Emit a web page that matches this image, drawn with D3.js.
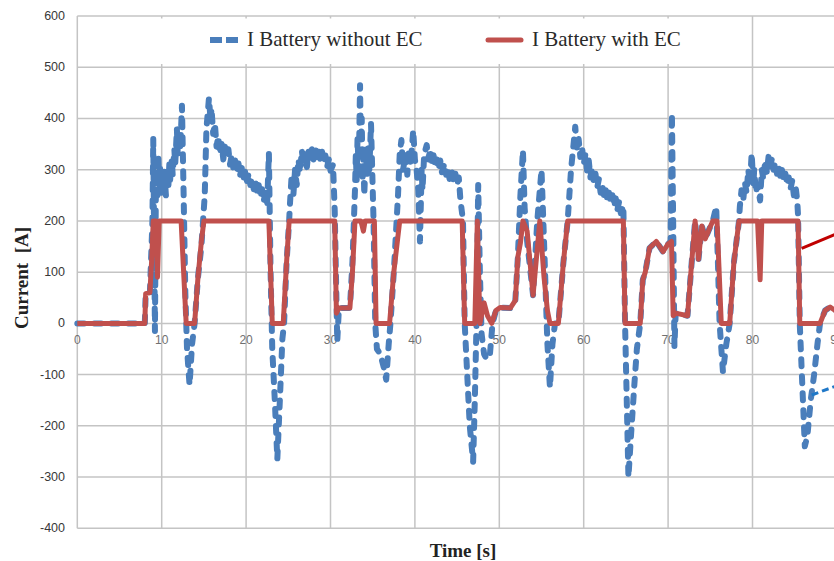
<!DOCTYPE html>
<html>
<head>
<meta charset="utf-8">
<script src="https://cdn.jsdelivr.net/npm/d3@7"></script>
<style>
	body { margin: 0; background: #fff; }
	.tick_y { font-family: "Liberation Sans", Arial, sans-serif; font-size: 12.5px; fill: #383838; }
	.tick_x { font-family: "Liberation Sans", Arial, sans-serif; font-size: 12px; fill: #707070; }
	.titulo { font-family: "Liberation Serif", "Times New Roman", serif; font-size: 19px; font-weight: bold; fill: #222; }
	.legenda { font-family: "Liberation Serif", "Times New Roman", serif; font-size: 21px; fill: #2a2a2a; }
</style>
</head>
<body>
<div id="grafico"></div>
<script>
// tempo [s], corrente [A]
var withoutEC= [[0,0],[8.0,0],[8.1,58],[8.6,60],[8.9,200],[9.0,360],[9.2,-15],
	[9.3,240],[9.4,300],[9.5,250],[9.6,330],[9.7,270],[9.8,310],[9.9,250],[10.0,290],[10.2,260],[10.3,300],
	[10.5,250],[10.6,290],[10.8,270],[10.9,310],[11.0,280],[11.2,320],[11.3,290],[11.5,340],[11.6,310],
	[11.8,380],[11.9,330],[12.1,370],[12.2,340],[12.4,425],
	[12.6,250],[12.8,60],[13.0,-50],[13.3,-120],[13.6,-40],[13.9,0],[14.3,90],[14.7,150],[15.1,250],[15.3,380],
	[15.6,440],[15.8,395],[15.9,420],[16.1,370],[16.3,390],[16.5,345],[16.7,365],[16.9,330],[17.1,350],[17.3,320],
	[17.5,345],[17.7,325],[17.9,340],[18.1,310],[18.3,330],[18.5,300],[18.7,318],[18.9,295],[19.1,312],[19.3,290],
	[19.5,305],[19.7,285],[19.9,298],[20.1,278],[20.3,292],[20.5,270],[20.7,285],[20.9,262],[21.1,278],[21.3,255],
	[21.5,270],[21.7,245],[21.9,262],[22.1,240],[22.3,255],[22.5,235],[22.7,332],
	[22.9,100],[23.1,-50],[23.4,-150],[23.7,-265],[24.0,-150],[24.3,-30],[24.5,0],[24.8,120],[25.1,200],
	[25.2,234],[25.4,290],[25.6,250],[25.8,300],[26.0,270],[26.2,320],[26.4,295],[26.6,338],[26.8,310],[27.0,330],
	[27.2,305],[27.4,335],[27.6,315],[27.8,340],[28.0,320],[28.2,345],[28.4,325],[28.6,340],[28.8,318],[29.0,335],
	[29.2,312],[29.4,328],[29.6,305],[29.8,320],[30.0,298],[30.3,310],[30.5,220],
	[30.8,-35],[31.0,30],[32.3,30],[32.6,120],[32.9,260],[33.0,330],[33.1,280],[33.2,360],[33.35,300],[33.5,465],
	[33.6,350],[33.7,400],[33.8,280],[33.9,330],[34.0,250],[34.2,340],[34.3,290],[34.5,350],[34.6,300],[34.8,390],
	[35.1,200],[35.3,0],[35.5,-50],[35.9,-60],[36.3,-85],[36.6,-110],[36.9,-40],[37.1,0],[37.5,100],
	[38.0,250],[38.2,330],[38.4,358],[38.6,300],[38.9,330],[39.1,290],[39.3,340],[39.5,310],[39.8,377],[40.0,320],
	[40.2,300],[40.4,260],[40.6,160],[40.8,300],[40.9,260],[41.1,330],[41.4,348],[41.6,320],[41.8,340],[42.0,315],
	[42.2,330],[42.4,305],[42.6,320],[42.8,300],[43.0,318],[43.2,295],[43.5,312],[43.7,290],[43.9,305],[44.1,282],
	[44.4,298],[44.6,275],[44.8,292],[45.0,270],[45.2,285],[45.4,240],
	[45.7,200],[45.9,0],[46.2,-100],[46.5,-200],[46.9,-270],[47.1,-150],
	[47.3,0],[47.5,270],[47.7,100],[47.9,-20],[48.2,-60],[48.5,-70],[48.9,-58],[49.2,0],[49.6,25],[50.1,31],
	[51.3,30],[51.9,45],[52.2,130],[52.5,250],[52.8,338],[53.0,226],[53.3,160],[54.0,55],[54.5,200],[55.0,300],
	[55.3,160],[55.7,-40],[56.0,-125],[56.3,-40],[56.6,0],[57.0,0],[57.6,120],[58.1,200],
	[58.5,300],[58.8,350],[59.0,384],[59.2,340],[59.4,360],[59.6,325],[59.8,345],[60.0,310],[60.2,330],[60.4,298],
	[60.6,318],[60.8,285],[61.0,305],[61.2,275],[61.4,292],[61.6,265],[61.8,282],[62.0,255],[62.2,272],[62.4,248],
	[62.6,262],[62.8,240],[63.0,255],[63.2,235],[63.4,250],[63.6,228],[63.8,244],[64.0,222],[64.2,238],[64.4,215],
	[64.7,230],[64.9,0],[65.1,-150],[65.3,-300],[65.6,-220],[66.0,-120],[66.3,-50],[66.7,0],[67.0,85],
	[67.3,100],[67.8,147],[68.6,160],[69.4,140],[70.0,155],[70.3,160],[70.45,410],[70.6,200],[70.75,-45],[70.9,20],
	[72.3,15],[72.8,120],[73.2,200],[73.6,125],[74.0,190],[74.4,165],[74.9,185],[75.3,200],[75.7,228],[75.9,120],
	[76.1,0],[76.5,-95],[76.9,-40],[77.3,0],[77.8,120],[78.4,200],
	[78.5,228],[78.7,260],[78.9,240],[79.1,275],[79.3,255],[79.5,300],[79.7,270],[79.9,332],[80.1,270],[80.2,300],
	[80.4,255],[80.6,270],[80.9,240],[81.1,300],[81.3,280],[81.5,318],[81.7,295],[81.9,325],[82.1,305],[82.3,322],
	[82.5,300],[82.7,315],[82.9,292],[83.1,308],[83.3,285],[83.5,300],[83.7,278],[83.9,292],[84.1,270],[84.3,285],
	[84.5,262],[84.7,278],[84.9,250],[85.1,268],[85.3,240],[85.4,210],
	[85.6,0],[85.9,-120],[86.2,-240],[86.5,-220],[86.9,-150],[87.3,-100],[87.7,-40],[88.0,0],
	[88.6,25],[89.2,32],[89.8,25],[90.5,30],[92,30]];

var withEC= [[0,0],[8.0,0],[8.1,58],[8.6,60],[8.8,120],[9.0,200],[9.3,200],[9.5,90],[9.7,200],[12.3,200],
	[12.6,100],[12.9,0],[13.9,0],[14.3,90],[14.7,160],[15.0,200],[22.7,200],[23.1,0],[24.4,0],[24.8,120],
	[25.1,200],[30.5,200],[30.7,20],[31.0,30],[32.3,30],[32.6,100],[32.9,200],[33.6,200],[33.9,180],[34.1,200],
	[35.2,200],[35.4,0],[37.0,0],[37.5,100],[38.2,200],[45.6,200],[45.9,0],[47.1,0],[47.4,200],[47.7,0],
	[48.2,40],[48.6,15],[49.1,0],[49.6,25],[50.1,31],[51.3,30],[51.9,45],[52.2,130],[52.5,157],[52.8,200],
	[53.3,180],[54.0,55],[54.8,200],[55.3,90],[55.7,25],[56.0,0],[57.0,0],[57.6,120],[58.1,200],[64.7,200],
	[64.9,0],[66.7,0],[67.0,85],[67.3,100],[67.8,147],[68.6,160],[69.4,140],[70.0,155],[70.4,160],[70.6,15],
	[70.9,20],[72.3,15],[72.8,120],[73.2,200],[73.6,125],[74.0,190],[74.4,165],[74.9,185],[75.3,200],[75.8,200],
	[76.3,0],[77.3,0],[77.8,120],[78.4,200],[80.6,200],[80.9,85],[81.1,200],[85.4,200],[85.6,0],[88.0,0],
	[88.6,25],[89.2,32],[89.8,25],[90.5,30],[92,30]];

var y_ticks= [-400,-300,-200,-100,0,100,200,300,400,500,600];
var x_ticks= [0,10,20,30,40,50,60,70,80,90];
var nomes= ["I Battery without EC","I Battery with EC"];

var cor_azul= "#4a7ebb";
var cor_vermelho= "#c0504d";

function desenha(view) {
	var largura= 834, altura= 561;

	var x= d3.scaleLinear().domain([0,100]).range([77.3, 77.3+ 844]);
	var y= d3.scaleLinear().domain([-400,600]).range([528.3, 16]);

	var svg= d3.select("#"+ view)
		.append("svg")
		.attr("width", largura)
		.attr("height", altura);

	// grade
	svg.selectAll(".gy").data(y_ticks).enter()
		.append("line")
		.attr("x1", x(0)).attr("x2", largura)
		.attr("y1", d => y(d)).attr("y2", d => y(d))
		.attr("stroke", "#c4c4c4")
		.attr("stroke-width", 1.5);

	svg.selectAll(".gx").data(x_ticks).enter()
		.append("line")
		.attr("x1", d => x(d)).attr("x2", d => x(d))
		.attr("y1", y(600)).attr("y2", y(-400))
		.attr("stroke", "#c4c4c4")
		.attr("stroke-width", 1.5);

	// caixa da legenda por cima da grade
	svg.append("rect")
		.attr("x", 84).attr("y", 18.5)
		.attr("width", 658).attr("height", 45.5)
		.attr("fill", "#fff");

	svg.selectAll(".ly").data(y_ticks).enter()
		.append("text")
		.attr("class", "tick_y")
		.attr("x", 65)
		.attr("y", d => y(d)+ 4)
		.attr("text-anchor", "end")
		.text(d => d);

	svg.selectAll(".lx").data(x_ticks).enter()
		.append("text")
		.attr("class", "tick_x")
		.attr("x", d => x(d))
		.attr("y", y(0)+ 21)
		.attr("text-anchor", "middle")
		.text(d => d);

	var linha= d3.line()
		.x(d => x(d[0]))
		.y(d => y(d[1]));

	svg.append("path")
		.datum(withoutEC)
		.attr("d", linha)
		.attr("fill", "none")
		.attr("stroke", cor_azul)
		.attr("stroke-width", 6)
		.attr("stroke-linecap", "round")
		.attr("stroke-linejoin", "round")
		.attr("stroke-dasharray", "7,10");

	svg.append("path")
		.datum(withEC)
		.attr("d", linha)
		.attr("fill", "none")
		.attr("stroke", cor_vermelho)
		.attr("stroke-width", 5)
		.attr("stroke-linejoin", "round");

	// setas de anotacao (saem do recorte)
	svg.append("line")
		.attr("x1", 801.7).attr("y1", 248.3)
		.attr("x2", 836).attr("y2", 234)
		.attr("stroke", "#c00000")
		.attr("stroke-width", 3);

	svg.append("line")
		.attr("x1", 811.7).attr("y1", 395)
		.attr("x2", 836).attr("y2", 386)
		.attr("stroke", "#1f78c8")
		.attr("stroke-width", 3)
		.attr("stroke-dasharray", "7,4");

	// legenda
	svg.append("line")
		.attr("x1", 210).attr("x2", 238)
		.attr("y1", 40).attr("y2", 40)
		.attr("stroke", cor_azul)
		.attr("stroke-width", 6)
		.attr("stroke-dasharray", "12,4");

	svg.append("text")
		.attr("class", "legenda")
		.attr("x", 247).attr("y", 46)
		.text(nomes[0]);

	svg.append("line")
		.attr("x1", 488).attr("x2", 521)
		.attr("y1", 40).attr("y2", 40)
		.attr("stroke", cor_vermelho)
		.attr("stroke-width", 5)
		.attr("stroke-linecap", "round");

	svg.append("text")
		.attr("class", "legenda")
		.attr("x", 532).attr("y", 46)
		.text(nomes[1]);

	// titulos dos eixos
	svg.append("text")
		.attr("class", "titulo")
		.attr("transform", "translate(28,278) rotate(-90)")
		.attr("text-anchor", "middle")
		.style("white-space", "pre")
		.text("Current  [A]");

	svg.append("text")
		.attr("class", "titulo")
		.attr("x", 463).attr("y", 557)
		.attr("text-anchor", "middle")
		.text("Time [s]");
}

desenha("grafico");
</script>
</body>
</html>
